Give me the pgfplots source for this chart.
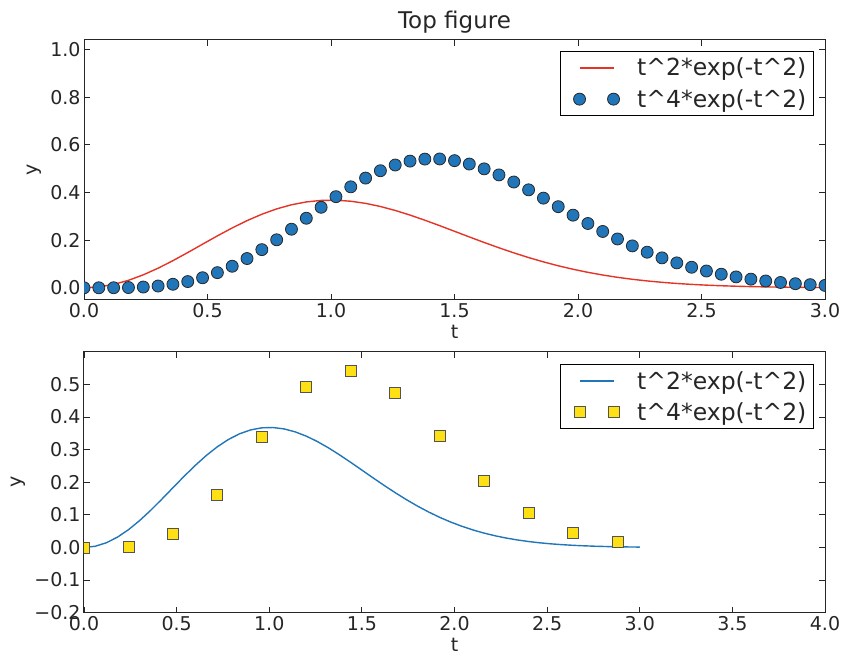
\documentclass[border=0pt]{standalone}
\usepackage{pgfplots}
\usepackage{pgfplotstable}
\pgfplotsset{compat=1.18}
\usepackage{fontspec}
\setmainfont{DejaVu Sans}
\definecolor{myred}{RGB}{228,52,38}
\definecolor{myblue}{RGB}{33,118,186}
\definecolor{myyellow}{RGB}{255,224,20}
\definecolor{edge}{RGB}{40,40,40}

\pgfplotstableread{
t f g
0 0 0
0.06 0.003587 0.000013
0.12 0.014194 0.000204
0.18 0.031367 0.001016
0.24 0.054376 0.003132
0.30 0.082254 0.007403
0.36 0.113846 0.014754
0.42 0.147873 0.026085
0.48 0.182987 0.042160
0.54 0.217847 0.063524
0.60 0.251163 0.090419
0.66 0.281783 0.122745
0.72 0.308707 0.160034
0.78 0.331116 0.201451
0.84 0.348444 0.245862
0.90 0.360335 0.291871
0.96 0.366683 0.337935
1.02 0.367574 0.382424
1.08 0.363301 0.423754
1.14 0.354304 0.460454
1.20 0.341176 0.491294
1.26 0.324569 0.515286
1.32 0.305157 0.531706
1.38 0.283601 0.540090
1.44 0.260757 0.540706
1.50 0.237148 0.533583
1.56 0.213439 0.519426
1.62 0.190201 0.499164
1.68 0.167851 0.473744
1.74 0.146639 0.443964
1.80 0.126891 0.411127
1.86 0.108763 0.376277
1.92 0.092363 0.340487
1.98 0.077745 0.304792
2.04 0.064850 0.269879
2.10 0.053604 0.236392
2.16 0.043922 0.204922
2.22 0.035677 0.175831
2.28 0.028726 0.149330
2.34 0.022932 0.125567
2.40 0.018150 0.104544
2.46 0.014246 0.086211
2.52 0.011088 0.070413
2.58 0.008560 0.056979
2.64 0.006551 0.045659
2.70 0.004979 0.036297
2.76 0.003748 0.028551
2.82 0.002799 0.022259
2.88 0.002065 0.017128
2.94 0.001521 0.013147
3.00 0.001111 0.010000
}\datatab

\pgfplotstableread{
t g
0 0
0.24 0.003132
0.48 0.042160
0.72 0.160034
0.96 0.337935
1.20 0.491294
1.44 0.540706
1.68 0.473744
1.92 0.340487
2.16 0.204922
2.40 0.104544
2.64 0.045659
2.88 0.017128
}\sqtab

\pgfplotsset{
  mystyle/.style={
    scale only axis,
    width=741pt,
    axis line style={line width=1pt, black!85},
    tick align=inside,
    major tick length=6pt,
    tick style={black!85, line width=0.8pt},
    tick label style={font=\fontsize{19}{19}\selectfont, text=black!85},
    label style={font=\fontsize{19}{19}\selectfont, text=black!85},
    xlabel={t}, ylabel={y},
    clip marker paths=true,
    legend cell align=left,
    legend style={draw=black, line width=1pt, font=\fontsize{23.5}{23.5}\selectfont, text=black!85, row sep=8pt, inner xsep=5pt, inner ysep=5pt},
    xlabel style={yshift=-1pt},
    ylabel style={yshift=2pt},
  },
  lineleg/.style={legend image code/.code={\path (-13pt,0pt) (55pt,0pt); \draw[##1, line width=1.4pt] (0pt,0pt) -- (34pt,0pt);}},
  markleg/.style={legend image code/.code={\path (-13pt,0pt) (55pt,0pt); \draw[##1, only marks] plot coordinates {(0pt,0pt) (34pt,0pt)};}},
}

\begin{document}
\begin{tikzpicture}[x=1pt,y=1pt]
\path[use as bounding box] (0,0) rectangle (844,657);
\begin{axis}[mystyle,
  at={(84pt,357.3pt)}, anchor=south west,
  height=259.7pt,
  xmin=0, xmax=3, ymin=-0.05, ymax=1.04,
  xtick={0,0.5,1,1.5,2,2.5,3},
  xticklabels={0.0,0.5,1.0,1.5,2.0,2.5,3.0},
  ytick={0,0.2,0.4,0.6,0.8,1.0},
  yticklabels={0.0,0.2,0.4,0.6,0.8,1.0},
  title={Top figure},
  title style={font=\fontsize{23}{23}\selectfont, text=black!85, yshift=-3pt},
  legend style={at={(0.985,0.959)}, anchor=north east},
]
\addplot[myred, line width=1.4pt, no markers, lineleg] table[x=t, y=f] {\datatab};
\addlegendentry{t\textasciicircum 2*exp(-t\textasciicircum 2)}
\addplot[only marks, mark=*, mark size=6pt, mark options={fill=myblue, draw=edge, line width=0.8pt}, markleg] table[x=t, y=g] {\datatab};
\addlegendentry{t\textasciicircum 4*exp(-t\textasciicircum 2)}
\end{axis}

\begin{axis}[mystyle,
  at={(84pt,44.3pt)}, anchor=south west,
  height=261pt,
  xmin=0, xmax=4, ymin=-0.2, ymax=0.6,
  xtick={0,0.5,1,1.5,2,2.5,3,3.5,4},
  xticklabels={0.0,0.5,1.0,1.5,2.0,2.5,3.0,3.5,4.0},
  ytick={-0.2,-0.1,0,0.1,0.2,0.3,0.4,0.5},
  yticklabels={−0.2,−0.1,0.0,0.1,0.2,0.3,0.4,0.5},
  legend style={at={(0.985,0.954)}, anchor=north east},
]
\addplot[myblue, line width=1.4pt, no markers, lineleg] table[x=t, y=f] {\datatab};
\addlegendentry{t\textasciicircum 2*exp(-t\textasciicircum 2)}
\addplot[only marks, mark=square*, mark size=5.5pt, mark options={fill=myyellow, draw=edge!80, line width=0.8pt}, markleg] table[x=t, y=g] {\sqtab};
\addlegendentry{t\textasciicircum 4*exp(-t\textasciicircum 2)}
\end{axis}
\end{tikzpicture}
\end{document}
